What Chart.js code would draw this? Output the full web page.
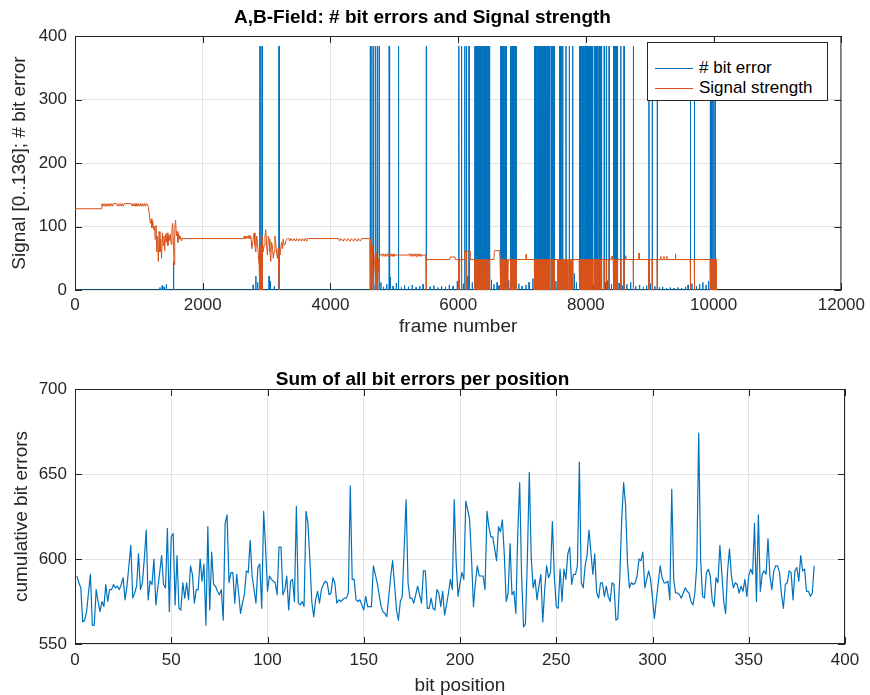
<!DOCTYPE html>
<html>
<head>
<meta charset="utf-8">
<title>A,B-Field bit errors</title>
<script src="https://cdn.jsdelivr.net/npm/chart.js@4.4.1/dist/chart.umd.min.js"></script>
<style>
  body { margin: 0; background: #fff; }
  #page { position: relative; width: 870px; height: 695px; overflow: hidden; }
  canvas { position: absolute; left: 0; }
  #frameChart { top: 0; }
  #bitChart { top: 345px; }
  #legend {
    position: absolute; left: 647px; top: 42px; width: 181px; height: 59px;
    box-sizing: border-box; border: 1px solid #262626; background: #fff;
    font: 17px 'Liberation Sans', Arial, sans-serif; color: #000;
  }
  #legend .row { position: absolute; left: 0; right: 0; height: 20px; }
  #legend .swatch { position: absolute; left: 7px; top: 10px; width: 38px; height: 1px; }
  #legend .text { position: absolute; left: 51px; top: 0; line-height: 20px; white-space: nowrap; }
</style>
</head>
<body>
<div id="page">
  <canvas id="frameChart" width="870" height="345"></canvas>
  <canvas id="bitChart" width="870" height="350"></canvas>
  <div id="legend">
    <div class="row" style="top:15px"><span class="swatch" style="background:#0072bd"></span><span class="text"># bit error</span></div>
    <div class="row" style="top:35px"><span class="swatch" style="background:#d95319"></span><span class="text">Signal strength</span></div>
  </div>
</div>
<script>
// ---- top panel: per frame ----
const frameTicks = [0, 2000, 4000, 6000, 8000, 10000, 12000];
const signalTicks = [0, 100, 200, 300, 400];
const lastFrame = 10045;
const bitsPerFrame = 384;

// signal strength level
const sigFrames = [
  0, 418, 422, 440, 455, 470, 485, 500, 515, 530, 545, 560, 575, 590, 600,
  650, 665, 680, 695, 710, 725, 740, 755, 770,
  880, 895, 910, 925, 940, 955, 970, 985, 1000, 1015, 1030, 1045, 1060, 1075, 1090, 1105, 1120, 1140,
  1150, 1165, 1180, 1192, 1205, 1218, 1230, 1245, 1255, 1268, 1280, 1292, 1305, 1318, 1330, 1342,
  1355, 1368, 1380, 1392, 1405, 1418, 1430, 1442, 1455, 1468, 1480, 1492, 1505, 1518, 1530, 1542,
  1552, 1562, 1575, 1588, 1600, 1612, 1625, 1638, 1650, 1662, 1675, 1690,
  2640, 2650, 2660, 2675, 2685, 2700, 2710, 2725, 2740, 2755, 2769, 2790, 2805, 2818, 2831, 2845,
  2857, 2870, 2883, 2905, 2922, 2945, 2961, 2975, 2987, 3000, 3013, 3026, 3039, 3052, 3065, 3078,
  3091, 3104, 3117, 3130, 3143, 3156, 3169, 3182, 3210, 3221, 3234, 3247, 3260, 3275, 3289, 3305, 3325,
  3350, 3365, 3380, 3410, 3425, 3455, 3470, 3500, 3515, 3545, 3560, 3590, 3605, 3630, 3640,
  4130, 4145, 4160, 4200, 4215, 4255, 4270, 4310, 4325, 4365, 4380, 4420, 4435, 4470, 4485, 4610,
  4624, 4636, 4660, 4668, 4690, 4705, 4725, 4733, 4750, 4758, 4772, 4790,
  4800, 4815, 4830, 4845, 4860, 4875, 4890, 4905, 4920, 4935, 4950, 4965, 4980, 4995, 5010,
  5220, 5235, 5250, 5265, 5280, 5295, 5310, 5325, 5340, 5355, 5370, 5385, 5400, 5415, 5430, 5445, 5490, 5495,
  5870, 5875, 5950, 5955, 6095, 6100, 6180, 6185, 6560, 6565, 6650, 6655, 7060, 7063, 7070,
  8395, 8398, 8420, 8423, 8620, 8622, 8627, 8830, 8832, 8836,
  9170, 9172, 9178, 9220, 9222, 9228, 9265, 9267, 9273, 9400, 9402, 9406, 10040, 10045
];
const sigLevels = [
  128, 128, 136, 132, 136, 132, 136, 132, 136, 132, 136, 132, 136, 132, 136,
  136, 132, 136, 132, 136, 132, 136, 132, 136,
  136, 132, 136, 132, 136, 132, 136, 132, 136, 132, 136, 132, 136, 132, 136, 132, 136, 134,
  130, 118, 105, 112, 98, 108, 95, 100, 80, 102, 60, 85, 45, 92, 60, 80,
  50, 90, 70, 85, 62, 88, 75, 90, 70, 86, 78, 88, 72, 95, 105, 70,
  40, 95, 110, 85, 92, 75, 88, 80, 85, 78, 82, 81,
  81, 85, 81, 85, 81, 85, 81, 86, 81, 84, 65, 80, 90, 70, 60, 85,
  75, 55, 40, 70, 85, 60, 70, 85, 95, 70, 55, 85, 80, 60, 45, 75,
  70, 50, 60, 85, 75, 60, 50, 65, 55, 55, 75, 65, 80, 70, 72, 78, 81,
  81, 77, 81, 77, 81, 77, 81, 77, 81, 77, 81, 77, 81, 77, 81,
  81, 77, 81, 77, 81, 77, 81, 77, 81, 77, 81, 77, 81, 77, 81, 81,
  62, 70, 55, 20, 45, 60, 10, 40, 50, 30, 55, 55,
  57, 53, 57, 53, 57, 53, 57, 53, 57, 53, 57, 53, 57, 53, 55,
  55, 57, 53, 57, 53, 57, 53, 57, 53, 57, 53, 57, 53, 57, 53, 55, 55, 48,
  48, 52, 52, 48, 48, 61, 61, 48, 48, 62, 62, 48, 48, 56, 48,
  48, 53, 53, 48, 48, 54, 48, 48, 58, 48,
  48, 53, 48, 48, 53, 48, 48, 53, 48, 48, 57, 48, 48, 0
];

// lost frames: signal fell to 0 and all 384 bits were wrong
const lostFrames = [
  2893, 2912, 2934, 3195,
  4623, 4649, 4675, 4712, 4738, 4764, 5500, 6010, 6052, 6130,
  6260, 6271, 6285, 6296, 6310, 6322, 6333, 6347, 6360, 6371, 6385, 6398, 6410, 6421, 6436, 6448, 6460, 6473, 6484, 6494,
  6665, 6678, 6690, 6704, 6716, 6730, 6741, 6753,
  6821, 6834, 6846, 6860, 6872, 6885, 6897, 6909,
  7195, 7207, 7220, 7232, 7245, 7258, 7270, 7283, 7296, 7308, 7321, 7334, 7347, 7360, 7372, 7385, 7398, 7410, 7420, 7429,
  7455, 7470, 7488, 7507, 7585, 7600, 7620, 7636, 7688, 7740, 7792,
  7896, 7908, 7920, 7933, 7946, 7958, 7970, 7983, 7996, 8008, 8020, 8033, 8046, 8058, 8070, 8082, 8094, 8104,
  8130, 8148, 8165, 8182, 8205, 8225, 8244, 8286, 8322, 8364,
  8431, 8447, 8463, 8479, 8494, 8546, 8597, 8743, 8987, 9039, 9117, 9636, 9699,
  9948, 9965, 9985, 10005, 10026
];
// signal drops without a full frame loss
const sigDropFrames = [6770, 6780, 7560, 7572, 7610, 7650, 7665, 7705, 7720, 7760, 7775, 8190];

// other bit error readings
const errFrames = [
  1330, 1365, 1395, 1430, 1543, 2790, 2831, 2860, 3039, 3060, 3120,
  4700, 4790, 4830, 4880, 4919, 4934, 4980, 5030, 5065, 5110, 5160, 5220, 5280, 5340, 5400, 5450,
  5560, 5620, 5680, 5740, 5800, 5860, 5920, 5985, 6080, 6104, 6150, 6171, 6220, 6520, 6560, 6610, 6640,
  6790, 6950, 7000, 7060, 7110, 7170, 7530, 7660, 7710, 7818, 7850, 8115, 8212, 8300, 8340, 8400,
  8520, 8570, 8640, 8700, 8780, 8840, 8900, 8950, 9010, 9080, 9150, 9200, 9260, 9320, 9380, 9440,
  9500, 9560, 9600, 9660, 9730, 9780, 9830, 9880, 9920
];
const errCounts = [
  4, 7, 5, 9, 45, 8, 22, 12, 22, 14, 6,
  8, 12, 5, 9, 384, 20, 6, 11, 384, 4, 7, 5, 8, 4, 6, 9,
  5, 7, 4, 6, 5, 8, 6, 14, 10, 384, 22, 384, 12, 16, 9, 12, 7,
  15, 10, 6, 8, 12, 18, 14, 9, 16, 26, 12, 8, 10, 12, 15, 9,
  11, 7, 9, 12, 6, 8, 5, 7, 10, 6, 4, 5, 3, 4, 3, 4,
  3, 5, 8, 10, 6, 9, 12, 8, 14
];

// ---- bottom panel: per bit position ----
const bitTicks = [0, 50, 100, 150, 200, 250, 300, 350, 400];
const cumTicks = [550, 600, 650, 700];
const cumErrors = [
  590, 586, 583, 563, 564, 569, 580, 591, 561, 561, 582, 575, 569, 575, 572, 585,
  575, 582, 582, 585, 583, 584, 582, 585, 589, 576, 584, 596, 608, 577, 580, 584,
  603, 582, 586, 600, 617, 576, 587, 585, 600, 573, 583, 592, 602, 585, 583, 618,
  569, 613, 615, 573, 602, 571, 570, 586, 577, 586, 576, 596, 591, 574, 582, 582,
  600, 587, 597, 561, 619, 570, 604, 585, 584, 581, 579, 582, 564, 621, 626, 586,
  592, 592, 574, 591, 580, 568, 574, 579, 593, 592, 611, 590, 582, 574, 595, 597,
  571, 628, 607, 581, 590, 588, 587, 586, 579, 607, 607, 579, 582, 590, 570, 587,
  588, 575, 631, 574, 573, 575, 572, 628, 621, 600, 575, 566, 576, 581, 574, 582,
  585, 587, 586, 579, 580, 589, 586, 574, 576, 575, 576, 577, 577, 580, 643, 588,
  588, 576, 575, 576, 573, 570, 578, 572, 572, 572, 596, 591, 586, 579, 572, 569,
  568, 566, 578, 590, 599, 585, 570, 564, 575, 578, 606, 635, 586, 577, 577, 574,
  579, 584, 579, 574, 593, 593, 571, 571, 577, 571, 570, 582, 580, 572, 581, 567,
  573, 580, 588, 582, 635, 598, 578, 586, 592, 588, 634, 629, 623, 600, 572, 586,
  596, 590, 590, 590, 582, 628, 619, 613, 613, 606, 599, 619, 616, 623, 603, 575,
  580, 609, 579, 581, 568, 615, 645, 590, 560, 562, 600, 651, 601, 583, 588, 576,
  584, 591, 563, 582, 596, 589, 592, 622, 590, 572, 571, 594, 575, 594, 588, 603,
  607, 585, 591, 591, 596, 657, 586, 583, 596, 602, 617, 604, 591, 603, 580, 577,
  586, 586, 578, 584, 578, 575, 586, 585, 564, 565, 589, 623, 645, 632, 598, 583,
  586, 585, 586, 590, 600, 599, 604, 583, 588, 593, 588, 577, 565, 576, 586, 596,
  589, 586, 586, 587, 576, 641, 588, 580, 580, 579, 577, 580, 583, 581, 580, 575,
  573, 580, 596, 674, 600, 578, 577, 592, 594, 590, 576, 572, 589, 586, 608, 592,
  575, 568, 593, 606, 590, 583, 586, 585, 580, 584, 581, 588, 578, 590, 594, 591,
  621, 575, 626, 581, 591, 593, 591, 612, 590, 582, 593, 596, 596, 592, 579, 571,
  585, 586, 593, 592, 576, 593, 595, 587, 602, 593, 594, 581, 581, 578, 580, 596
];
const bitPositions = cumErrors.map((_, i) => i + 1);

const TEXT = '#262626';
const GRID = '#e3e3e3';
const BLUE = '#0072bd';
const ORANGE = '#d95319';
const FONT = "'Liberation Sans', Arial, sans-serif";

function levelAt(f) {
  let lvl = sigLevels[0];
  sigFrames.forEach((x, i) => { if (x <= f) lvl = sigLevels[i]; });
  return lvl;
}

function buildErrorSeries() {
  const pts = [{ x: 0, y: 0 }, { x: lastFrame, y: 0 }];
  errFrames.forEach((f, i) => pts.push({ x: f - 3, y: 0 }, { x: f, y: errCounts[i] }, { x: f + 3, y: 0 }));
  lostFrames.forEach((f) => pts.push({ x: f - 3, y: 0 }, { x: f, y: bitsPerFrame }, { x: f + 3, y: 0 }));
  return pts.sort((a, b) => a.x - b.x);
}

function buildSignalSeries() {
  const pts = sigFrames.map((f, i) => ({ x: f, y: sigLevels[i] }));
  lostFrames.concat(sigDropFrames).forEach((f) => {
    const lvl = levelAt(f);
    pts.push({ x: f - 3, y: lvl }, { x: f, y: 0 }, { x: f + 3, y: lvl });
  });
  return pts.sort((a, b) => a.x - b.x);
}

// matlab style box with inward ticks on all four sides
const axesBox = {
  id: 'axesBox',
  beforeDatasetsDraw(chart) {
    const { ctx, chartArea: a, scales } = chart;
    const len = 7;
    ctx.save();
    ctx.strokeStyle = TEXT;
    ctx.lineWidth = 1;
    ctx.beginPath();
    scales.x.ticks.forEach((t) => {
      const px = Math.round(scales.x.getPixelForValue(t.value)) + 0.5;
      ctx.moveTo(px, a.bottom); ctx.lineTo(px, a.bottom - len);
      ctx.moveTo(px, a.top); ctx.lineTo(px, a.top + len);
    });
    scales.y.ticks.forEach((t) => {
      const py = Math.round(scales.y.getPixelForValue(t.value)) + 0.5;
      ctx.moveTo(a.left, py); ctx.lineTo(a.left + len, py);
      ctx.moveTo(a.right, py); ctx.lineTo(a.right - len, py);
    });
    ctx.stroke();
    ctx.strokeRect(a.left + 0.5, a.top + 0.5, a.width - 1, a.height - 1);
    ctx.restore();
  },
};

function makeScale(min, max, tickValues, label, opts) {
  return {
    type: 'linear',
    min: min,
    max: max,
    afterBuildTicks: (s) => { s.ticks = tickValues.map((v) => ({ value: v })); },
    afterFit: opts.fit,
    grid: { color: GRID, drawTicks: false },
    border: { display: false },
    ticks: {
      color: TEXT,
      font: { family: FONT, size: 17 },
      padding: opts.tickPad,
      maxRotation: 0,
      autoSkip: false,
      callback: (v) => String(v),
    },
    title: {
      display: true,
      text: label,
      color: TEXT,
      font: { family: FONT, size: 19, lineHeight: 1 },
      padding: opts.titlePad,
    },
  };
}

function baseOptions(title, titlePad) {
  return {
    responsive: false,
    devicePixelRatio: 1,
    animation: false,
    events: [],
    layout: { padding: { left: 0, right: 25, top: 0, bottom: 0 } },
    elements: { line: { borderJoinStyle: 'round', tension: 0 }, point: { radius: 0 } },
    plugins: {
      legend: { display: false },
      tooltip: { enabled: false },
      title: {
        display: true,
        text: title,
        color: '#000',
        font: { family: FONT, size: 19, weight: 'bold', lineHeight: 1 },
        padding: titlePad,
      },
    },
  };
}

const topOptions = baseOptions('A,B-Field: # bit errors and Signal strength', { top: 8.5, bottom: 8.5 });
topOptions.scales = {
  x: makeScale(0, 12000, frameTicks, 'frame number', {
    fit: (s) => { s.height = 55; }, tickPad: 5, titlePad: { top: 0, bottom: 8.5 },
  }),
  y: makeScale(0, 400, signalTicks, 'Signal [0..136]; # bit error', {
    fit: (s) => { s.width = 75; }, tickPad: 8, titlePad: { top: 10.5, bottom: 0 },
  }),
};

new Chart(document.getElementById('frameChart'), {
  type: 'line',
  data: {
    datasets: [
      { label: '# bit error', data: buildErrorSeries(), borderColor: BLUE, borderWidth: 1, order: 2 },
      { label: 'Signal strength', data: buildSignalSeries(), borderColor: ORANGE, borderWidth: 1, order: 1 },
    ],
  },
  options: topOptions,
  plugins: [axesBox],
});

const bottomOptions = baseOptions('Sum of all bit errors per position', { top: 25, bottom: 0 });
bottomOptions.scales = {
  x: makeScale(0, 400, bitTicks, 'bit position', {
    fit: (s) => { s.height = 51; }, tickPad: 6, titlePad: { top: 0, bottom: 0 },
  }),
  y: makeScale(550, 700, cumTicks, 'cumulative bit errors', {
    fit: (s) => { s.width = 75; }, tickPad: 8, titlePad: { top: 12, bottom: 0 },
  }),
};

new Chart(document.getElementById('bitChart'), {
  type: 'line',
  data: {
    datasets: [
      {
        label: 'cumulative bit errors',
        data: bitPositions.map((b, i) => ({ x: b, y: cumErrors[i] })),
        borderColor: BLUE,
        borderWidth: 1.2,
      },
    ],
  },
  options: bottomOptions,
  plugins: [axesBox],
});
</script>
</body>
</html>
